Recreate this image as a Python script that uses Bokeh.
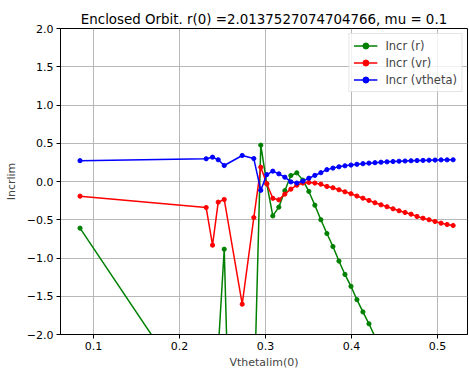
from bokeh.plotting import figure
from bokeh.models import Range1d, FixedTicker, Legend, LegendItem, ColumnDataSource
from bokeh.embed import file_html
from bokeh.resources import INLINE

title_text = "Enclosed Orbit. r(0) =2.0137527074704766, mu = 0.1"
x_label = "Vthetalim(0)"
y_label = "Incrlim"

vthetalim0 = [0.0843, 0.2310, 0.2384, 0.2450, 0.2520, 0.2729, 0.2864,
              0.2945, 0.3015, 0.3085, 0.3155, 0.3225, 0.3295, 0.3364, 0.3434,
              0.3504, 0.3574, 0.3644, 0.3714, 0.3784, 0.3854, 0.3924, 0.3994,
              0.4063, 0.4133, 0.4203, 0.4273, 0.4343, 0.4413, 0.4483, 0.4553,
              0.4623, 0.4693, 0.4762, 0.4832, 0.4902, 0.4972, 0.5042, 0.5112,
              0.5182]

incr_r = [-0.61, -3.07, -4.5, -2.2, -0.885, -9.5, -3.0,
          0.475, -0.03, -0.45, -0.335, -0.12, 0.078, 0.113, 0.018,
          -0.13, -0.31, -0.50, -0.68, -0.85, -1.04, -1.215, -1.37,
          -1.545, -1.705, -1.86, -2.03, -2.2, -2.38, -2.56, -2.75,
          -2.94, -3.13, -3.33, -3.53, -3.73, -3.94, -4.15, -4.36,
          -4.57]

incr_vr = [-0.192, -0.340, -0.832, -0.270, -0.235, -1.604, -0.471,
           0.187, -0.03, -0.22, -0.24, -0.165, -0.10, -0.048, -0.02,
           -0.012, -0.02, -0.035, -0.065, -0.082, -0.108, -0.135, -0.16,
           -0.19, -0.218, -0.248, -0.278, -0.305, -0.33, -0.357, -0.383,
           -0.405, -0.427, -0.457, -0.48, -0.50, -0.523, -0.545, -0.562,
           -0.575]

incr_vtheta = [0.272, 0.297, 0.318, 0.284, 0.209, 0.340, 0.300,
               -0.115, 0.09, 0.135, 0.10, 0.056, -0.005, -0.02, 0.004,
               0.043, 0.08, 0.115, 0.155, 0.175, 0.192, 0.205, 0.215,
               0.225, 0.233, 0.24, 0.246, 0.252, 0.257, 0.261, 0.265,
               0.268, 0.271, 0.274, 0.276, 0.278, 0.28, 0.282, 0.283,
               0.284]

series_labels = ["Incr (r)", "Incr (vr)", "Incr (vtheta)"]
series_colors = ["#008000", "#ff0000", "#0000ff"]

x_ticks = [0.1, 0.2, 0.3, 0.4, 0.5]
x_tick_labels = ["0.1", "0.2", "0.3", "0.4", "0.5"]
y_ticks = [-2.0, -1.5, -1.0, -0.5, 0.0, 0.5, 1.0, 1.5, 2.0]
y_tick_labels = ["\u22122.0", "\u22121.5", "\u22121.0", "\u22120.5", "0.0", "0.5", "1.0", "1.5", "2.0"]

FONT = "DejaVu Sans"

p = figure(width=469, height=374, output_backend="svg", toolbar_location=None,
           x_range=Range1d(0.0616, 0.5349), y_range=Range1d(-2.0, 2.0),
           min_border_left=60, min_border_right=2, min_border_top=28, min_border_bottom=40)

p.title.text = title_text
p.title.align = "center"
p.title.text_font = FONT
p.title.text_font_size = "13.4px"
p.title.text_font_style = "normal"
p.title.text_color = "black"
p.title.offset = 0
p.title.standoff = 4

p.background_fill_color = "white"
p.border_fill_color = "white"
p.outline_line_color = "black"
p.outline_line_width = 1
p.outline_line_alpha = 1

for ax, ticks, labels, lab in ((p.xaxis, x_ticks, x_tick_labels, x_label),
                               (p.yaxis, y_ticks, y_tick_labels, y_label)):
    ax.ticker = FixedTicker(ticks=ticks)
    ax.major_label_overrides = {t: l for t, l in zip(ticks, labels)}
    ax.axis_label = lab
    ax.axis_label_text_font = FONT
    ax.axis_label_text_font_size = "11px"
    ax.axis_label_text_font_style = "normal"
    ax.major_label_text_font = FONT
    ax.major_label_text_font_size = "11px"
    ax.major_label_text_color = "black"
    ax.axis_line_color = "black"
    ax.major_tick_line_color = "black"
    ax.major_tick_out = 4
    ax.major_tick_in = 0
    ax.minor_tick_line_color = None
    ax.major_label_standoff = 3

p.xaxis.axis_label_standoff = 3
p.yaxis.axis_label_standoff = 6

p.xgrid.grid_line_color = "#b0b0b0"
p.ygrid.grid_line_color = "#b0b0b0"
p.xgrid.grid_line_width = 0.9
p.ygrid.grid_line_width = 0.9

src = ColumnDataSource(dict(x=vthetalim0, r=incr_r, vr=incr_vr, vt=incr_vtheta))

items = []
for col, lab, color in zip(["r", "vr", "vt"], series_labels, series_colors):
    ln = p.line("x", col, source=src, line_color=color, line_width=1.5)
    sc = p.scatter("x", col, source=src, size=4.2, fill_color=color, line_color=color, line_width=1)
    items.append(LegendItem(label=lab, renderers=[ln, sc]))

legend = Legend(items=items, location="top_right")
legend.label_text_font = FONT
legend.label_text_font_size = "11.5px"
legend.glyph_width = 24
legend.glyph_height = 15
legend.label_height = 15
legend.label_standoff = 8
legend.spacing = 2
legend.padding = 4
legend.margin = 5
legend.border_line_color = "#cccccc"
legend.border_line_width = 1
legend.background_fill_alpha = 0.8
p.add_layout(legend, "center")

open("out.html", "w").write(file_html(p, INLINE))
